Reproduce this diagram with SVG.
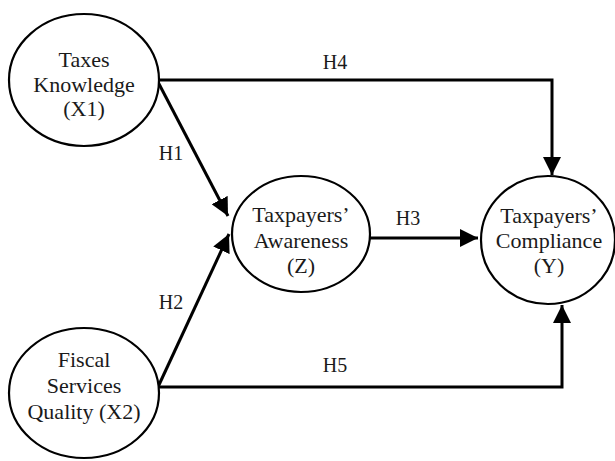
<svg xmlns="http://www.w3.org/2000/svg" width="615" height="461" viewBox="0 0 615 461">
<style>
.node ellipse{fill:#fff;stroke:#000;stroke-width:2.2}
.node text{font-family:"Liberation Serif","Times New Roman",serif;font-size:22px;fill:#1a1a1a;text-anchor:middle}
.lbl{font-family:"Liberation Serif","Times New Roman",serif;font-size:20px;fill:#1a1a1a;text-anchor:middle}
.edge{fill:none;stroke:#000;stroke-width:3}
</style>
<defs>
<marker id="ah" markerWidth="6" markerHeight="6" refX="6" refY="3" orient="auto" markerUnits="strokeWidth">
<path d="M0,0 L6,3 L0,6 z" fill="#000"/>
</marker>
</defs>
<rect width="615" height="461" fill="#fff"/>
<g id="connectors">
<path class="edge" d="M158,82 L228,216" marker-end="url(#ah)"/>
<path class="edge" d="M158,387 L229,234" marker-end="url(#ah)"/>
<path class="edge" d="M370,238 L478,238" marker-end="url(#ah)"/>
<path class="edge" d="M158,80 L552,80 L552,175" marker-end="url(#ah)"/>
<path class="edge" d="M158,387 L562,387 L562,305" marker-end="url(#ah)"/>
<text class="lbl" x="335" y="69">H4</text>
<text class="lbl" x="171" y="160">H1</text>
<text class="lbl" x="171" y="309">H2</text>
<text class="lbl" x="408" y="225">H3</text>
<text class="lbl" x="335" y="372">H5</text>
</g>
<g id="X1" class="node">
<ellipse cx="84" cy="80" rx="75" ry="66"/>
<text x="84" y="67">Taxes</text>
<text x="84" y="92">Knowledge</text>
<text x="84" y="116">(X1)</text>
</g>
<g id="X2" class="node">
<ellipse cx="84" cy="393" rx="75" ry="65"/>
<text x="84" y="367">Fiscal</text>
<text x="84" y="393">Services</text>
<text x="84" y="419">Quality (X2)</text>
</g>
<g id="Z" class="node">
<ellipse cx="301" cy="234" rx="69" ry="58"/>
<text x="301" y="222">Taxpayers’</text>
<text x="301" y="248">Awareness</text>
<text x="301" y="273">(Z)</text>
</g>
<g id="Y" class="node">
<ellipse cx="548" cy="240" rx="67" ry="64"/>
<text x="549" y="223">Taxpayers’</text>
<text x="549" y="248">Compliance</text>
<text x="549" y="273">(Y)</text>
</g>
</svg>
